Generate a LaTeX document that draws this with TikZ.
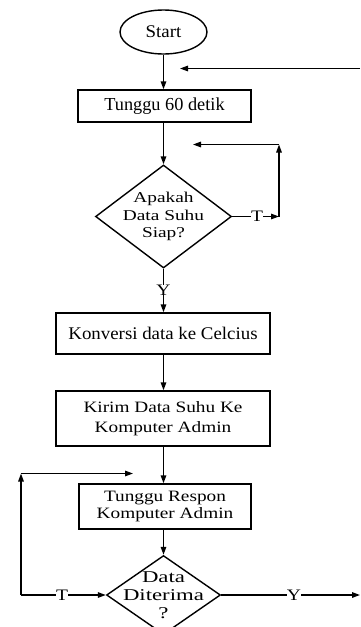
\documentclass[tikz,border=0pt]{standalone}
\usepackage{fontspec}
\setmainfont{Liberation Serif}
% slightly widened serif faces for the different text groups
\newfontfamily\wideA{Liberation Serif}[FakeStretch=1.06]
\newfontfamily\wideB{Liberation Serif}[FakeStretch=1.22]
\newfontfamily\wideC{Liberation Serif}[FakeStretch=1.29]
\newfontfamily\wideD{Liberation Serif}[FakeStretch=1.38]
\usetikzlibrary{shapes.geometric,arrows.meta}
\begin{document}
\begin{tikzpicture}[x=1pt,y=-1pt,
  line/.style={line width=1.4pt},
  arr/.style={line, -{Triangle[length=8pt,width=5.5pt]}},
  procbox/.style={draw, line width=1.4pt, rectangle, align=center, inner sep=0pt},
  decision/.style={draw, line width=1.4pt, diamond, inner sep=0pt},
  fontA/.style={font=\wideA\fontsize{17.8}{19}\selectfont},
  lbl/.style={inner sep=0pt, fill=white, font=\wideB\fontsize{16}{16}\selectfont}]
\useasboundingbox (0,0) rectangle (360,627);

% process chain
\node[draw, line width=1.4pt, ellipse, minimum width=87pt, minimum height=44pt, inner sep=0pt, fontA] (start) at (163.5,32) {Start};
\node[procbox, font=\fontsize{18.3}{19}\selectfont, minimum width=173pt, minimum height=32pt] (wait) at (164.5,106) {Tunggu 60 detik};
\node[decision, minimum width=136pt, minimum height=103pt,
  label={[align=center, font=\wideC\fontsize{15}{17.7}\selectfont]center:Apakah\\Data Suhu\\Siap?}] (ready) at (163.5,216.5) {};
\node[procbox, fontA, minimum width=214pt, minimum height=41pt] (conv) at (163,333.5) {Konversi data ke Celcius};
\node[procbox, font=\wideB\fontsize{15.8}{19.5}\selectfont, minimum width=214pt, minimum height=55pt] (send) at (163,418.5) {Kirim Data Suhu Ke\\Komputer Admin};
\node[procbox, font=\wideB\fontsize{15.8}{16.5}\selectfont, minimum width=172pt, minimum height=45pt] (resp) at (165,506.5) {Tunggu Respon\\Komputer Admin};
\node[decision, minimum width=114pt, minimum height=79pt,
  label={[align=center, font=\wideD\fontsize{16.5}{18}\selectfont]center:Data\\Diterima\\?}] (recv) at (163.5,595) {};

% main flow, all on one vertical axis
\draw[arr] (start.south) -- (start.south |- wait.north);
\draw[arr] (start.south |- wait.south) -- (ready.north);
\node[lbl] (y1) at (163.5,290) {Y};
\draw[line] (ready.south) -- (y1.north);
\draw[arr] (y1.south) -- (y1.south |- conv.north);
\draw[arr] (y1.south |- conv.south) -- (y1.south |- send.north);
\draw[arr] (y1.south |- send.south) -- (y1.south |- resp.north);
\draw[arr] (y1.south |- resp.south) -- (recv.north);

% return to the waiting step
\coordinate (topR) at (360,68.5);
\coordinate (topL) at (180,68.5);
\draw[arr] (topR) -- (topL);

% "not ready" loop
\node[lbl] (t1) at (257,216.5) {T};
\coordinate (r1) at (279,216.5);
\coordinate (r2) at (279,144.5);
\coordinate (r3) at (193,144.5);
\draw[line] (ready.east) -- (t1.west);
\draw[arr] (t1.east) -- (r1);
\draw[arr] (r1) -- (r2);
\draw[arr] (r2) -- (r3);

% "not received" loop
\node[lbl] (t2) at (62,595) {T};
\coordinate (l1) at (21,595);
\coordinate (l2) at (21,473.5);
\coordinate (l3) at (133,473.5);
\draw[line] (l1) -- (t2.west);
\draw[arr] (t2.east) -- (recv.west);
\draw[arr] (l1) -- (l2);
\draw[arr] (l2) -- (l3);

% "received" exit
\node[lbl] (y2) at (294,595) {Y};
\coordinate (exitR) at (360,595);
\draw[line] (recv.east) -- (y2.west);
\draw[arr] (y2.east) -- (exitR);
\end{tikzpicture}
\end{document}
